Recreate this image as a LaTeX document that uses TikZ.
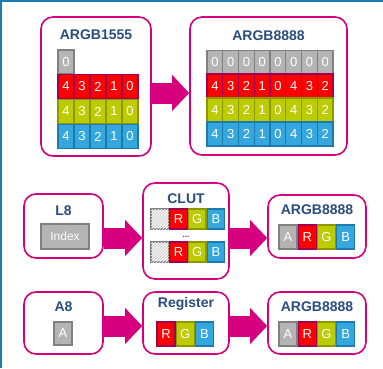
\documentclass[tikz,border=0pt]{standalone}
\usepackage{fontspec}
\setmainfont{Liberation Sans}
\usetikzlibrary{positioning, arrows.meta, patterns}

\definecolor{stpink}{RGB}{214,0,126}
\definecolor{stnavy}{RGB}{42,76,126}
\definecolor{stframe}{RGB}{28,124,180}
\definecolor{cgray}{RGB}{180,180,180}
\definecolor{cgrayd}{RGB}{128,128,128}
\definecolor{cred}{RGB}{255,0,0}
\definecolor{credd}{RGB}{160,0,84}
\definecolor{cyel}{RGB}{189,204,0}
\definecolor{cyeld}{RGB}{140,152,0}
\definecolor{cblue}{RGB}{52,168,222}
\definecolor{cblued}{RGB}{30,122,170}

\begin{document}
\begin{tikzpicture}[x=1pt, y=-1pt,
  box/.style={draw=stpink, line width=1.6pt, rounded corners=12pt, fill=white, inner sep=0pt},
  title/.style={font=\bfseries\fontsize{14}{16}\selectfont, text=stnavy, inner sep=0pt},
  cell/.style={inner sep=0pt, line width=1.2pt, text=white, font=\fontsize{13}{14}\selectfont},
  gcell/.style={cell, fill=cgray, draw=cgrayd},
  rcell/.style={cell, fill=cred, draw=credd},
  ycell/.style={cell, fill=cyel, draw=cyeld},
  bcell/.style={cell, fill=cblue, draw=cblued},
  hcell/.style={cell, fill=gray!30, draw=cgrayd, postaction={pattern=north east lines, pattern color=white}},
  bit/.style={minimum width=16pt, minimum height=24pt},
  wbit/.style={minimum width=15.75pt, minimum height=24pt},
  lut/.style={minimum width=17.5pt, minimum height=20pt},
  chan/.style={minimum width=18pt, minimum height=24pt},
  bigarr/.style={-{Triangle[length=17pt, width=35pt]}, line width=21pt, draw=stpink},
  frame/.style={draw=stframe, line width=1.5pt}
]
  \useasboundingbox (0,0) rectangle (383,368);

  % Frame
  \draw[frame] (383,0.8) -- (0.8,0.8) -- (0.8,368);

  % Arrow levels
  \coordinate (lvl1) at (0,93);
  \coordinate (lvl2) at (0,238);
  \coordinate (lvl3) at (0,326);

  % Top boxes
  \node[box, minimum width=110pt, minimum height=139pt] (src1555) at (96,86.5) {};
  \node[box, minimum width=157pt, minimum height=138pt] (dst8888) at (268.5,86) {};
  \node[title] (t1555) at ([yshift=-18pt]src1555.north) {ARGB1555};
  \node[title] (t8888) at ([yshift=-19pt]dst8888.north) {ARGB8888};

  % ARGB1555 bits
  \node[gcell, bit] (sa0) at (66,62) {0};
  \foreach \b [count=\i from 0] in {4,3,2,1,0} {
    \node[rcell, bit] (sr\i) at (66+16*\i,86.5) {\b};
    \node[ycell, bit] (sg\i) at (66+16*\i,111.5) {\b};
    \node[bcell, bit] (sb\i) at (66+16*\i,136.5) {\b};
  }

  % ARGB8888 bits
  \foreach \b [count=\i from 0] in {4,3,2,1,0,4,3,2} {
    \node[gcell, wbit] (da\i) at (214.9+15.75*\i,62.5) {0};
    \node[rcell, wbit] (dr\i) at (214.9+15.75*\i,86) {\b};
    \node[ycell, wbit] (dg\i) at (214.9+15.75*\i,110) {\b};
    \node[bcell, wbit] (db\i) at (214.9+15.75*\i,134) {\b};
  }

  \draw[bigarr] (src1555.east |- lvl1) -- (dst8888.west |- lvl1);

  % L8 row
  \node[box, minimum width=79pt, minimum height=64pt] (l8) at (63.5,226) {};
  \node[title] (tl8) at ([yshift=-17pt]l8.north) {L8};
  \node[gcell, minimum width=48pt, minimum height=25pt, font=\fontsize{12}{14}\selectfont] (idx) at (65,236.5) {Index};

  \node[box, minimum width=86pt, minimum height=96pt] (clut) at (186,231) {};
  \node[title] (tclut) at ([yshift=-16pt]clut.north) {CLUT};
  \foreach \y [count=\k] in {219,252} {
    \node[hcell, lut] (ch\k) at (159.75,\y) {};
    \node[rcell, lut, right=0pt of ch\k] (cr\k) {R};
    \node[ycell, lut, right=0pt of cr\k] (cg\k) {G};
    \node[bcell, lut, right=0pt of cg\k] (cb\k) {B};
  }
  \node[text=stnavy, font=\bfseries\fontsize{8}{8}\selectfont, inner sep=0pt] (dots) at (186,236.5) {...};

  \node[box, minimum width=98pt, minimum height=63pt] (outl8) at (317,226.5) {};
  \node[title] (toutl8) at ([yshift=-15pt]outl8.north) {ARGB8888};
  \node[gcell, chan] (oa1) at (288,237) {A};
  \node[rcell, chan, right=0pt of oa1] (or1) {R};
  \node[ycell, chan, right=0pt of or1] (og1) {G};
  \node[bcell, chan, right=0pt of og1] (ob1) {B};

  \draw[bigarr] (l8.east |- lvl2) -- (clut.west |- lvl2);
  \draw[bigarr] (clut.east |- lvl2) -- (outl8.west |- lvl2);

  % A8 row
  \node[box, minimum width=79pt, minimum height=62pt] (a8) at (63.5,323) {};
  \node[title] (ta8) at ([yshift=-15pt]a8.north) {A8};
  \node[gcell, minimum width=18pt, minimum height=23pt] (alpha) at (63,333.5) {A};

  \node[box, minimum width=86pt, minimum height=62pt] (reg) at (186,323) {};
  \node[title] (treg) at ([yshift=-13pt]reg.north) {Register};
  \node[rcell, chan] (rr) at (166,334) {R};
  \node[ycell, chan, right=0pt of rr] (rg) {G};
  \node[bcell, chan, right=0pt of rg] (rb) {B};

  \node[box, minimum width=98pt, minimum height=62pt] (outa8) at (317,323) {};
  \node[title] (touta8) at ([yshift=-15pt]outa8.north) {ARGB8888};
  \node[gcell, chan] (oa2) at (288,334) {A};
  \node[rcell, chan, right=0pt of oa2] (or2) {R};
  \node[ycell, chan, right=0pt of or2] (og2) {G};
  \node[bcell, chan, right=0pt of og2] (ob2) {B};

  \draw[bigarr] (a8.east |- lvl3) -- (reg.west |- lvl3);
  \draw[bigarr] (reg.east |- lvl3) -- (outa8.west |- lvl3);

\end{tikzpicture}
\end{document}
